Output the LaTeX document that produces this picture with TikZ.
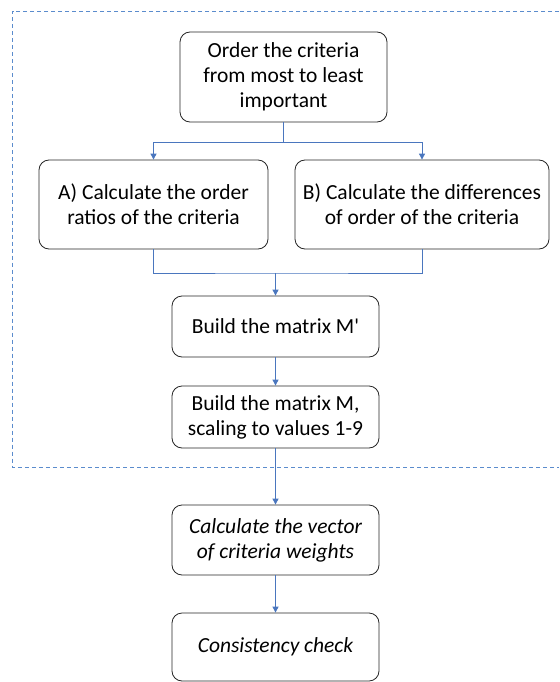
\documentclass[tikz,border=0pt]{standalone}
\usepackage{fontspec}
\setmainfont{Carlito}
\usetikzlibrary{arrows.meta}
\definecolor{flowblue}{RGB}{74,118,190}
\definecolor{frameblue}{RGB}{91,140,205}

\begin{document}
\begin{tikzpicture}[x=1pt,y=-1pt,
  stepbox/.style={draw=black!85, line width=0.8pt, rounded corners=10pt, align=center,
    font=\fontsize{21.5}{25}\selectfont, inner sep=0pt},
  flow/.style={draw=flowblue, line width=0.9pt},
  flowarr/.style={flow, -{Triangle[length=6pt,width=6pt]}},
  frame/.style={draw=frameblue, line width=0.8pt, dash pattern=on 4pt off 3pt}]
\useasboundingbox (0,0) rectangle (559,682);

\draw[frame] (559,11) -| (12.5,467) -- (559,467);

\node[stepbox, minimum width=207pt, minimum height=90pt] (order) at (283.5,77) {Order the criteria\\from most to least\\important};
\node[stepbox, minimum width=229pt, minimum height=89pt] (ratios) at (153.5,204.5) {A) Calculate the order\\ratios of the criteria};
\node[stepbox, minimum width=254pt, minimum height=89pt] (diffs) at (422,204.5) {B) Calculate the differences\\of order of the criteria};
\node[stepbox, minimum width=207pt, minimum height=61pt] (mprime) at (275.5,326.5) {Build the matrix M\textquotesingle};
\node[stepbox, minimum width=207pt, minimum height=62pt] (mscaled) at (275.5,417) {Build the matrix M,\\scaling to values 1-9};
\node[stepbox, minimum width=207pt, minimum height=70pt, font=\fontsize{21.5}{25}\selectfont\itshape] (weights) at (275.5,540) {Calculate the vector\\of criteria weights};
\node[stepbox, minimum width=207pt, minimum height=68pt, font=\fontsize{21.5}{25}\selectfont\itshape] (check) at (275.5,647) {Consistency check};

\coordinate (split) at (283.5,142);
\coordinate (join) at (275.5,273);
\draw[flow] (order.south) -- (split);
\draw[flowarr] (split) -| (ratios.north);
\draw[flowarr] (split) -| (diffs.north);
\draw[flow] (ratios.south) |- (join) -| (diffs.south);
\draw[flowarr] (join) -- (mprime.north);
\draw[flowarr] (mprime.south) -- (mscaled.north);
\draw[flowarr] (mscaled.south) -- (weights.north);
\draw[flowarr] (weights.south) -- (check.north);
\end{tikzpicture}
\end{document}
